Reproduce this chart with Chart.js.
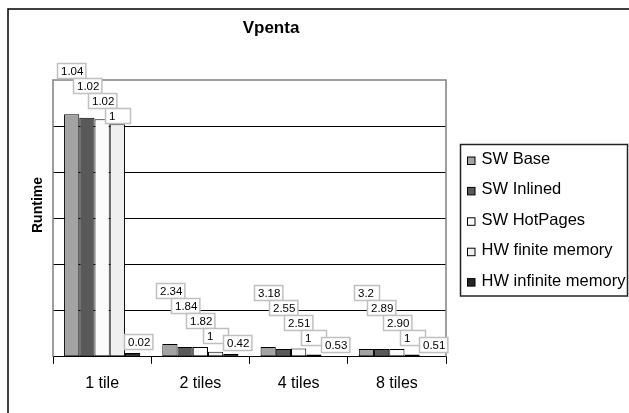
<!DOCTYPE html>
<html><head><meta charset="utf-8">
<script src="https://cdn.jsdelivr.net/npm/chart.js@4"></script>
<style>html,body{margin:0;padding:0;background:#fff;overflow:hidden}</style>
</head><body>
<canvas id="c" width="629" height="413"></canvas>
<script>
const chartTitle = 'Vpenta';
const yAxisTitle = 'Runtime';
const categories = ['1 tile', '2 tiles', '4 tiles', '8 tiles'];
const seriesNames = ['SW Base', 'SW Inlined', 'SW HotPages', 'HW finite memory', 'HW infinite memory'];
const swBase     = [5.26, 0.28, 0.21, 0.17];
const swInlined  = [5.18, 0.21, 0.17, 0.17];
const swHotPages = [5.15, 0.21, 0.18, 0.17];
const hwFinite   = [5.04, 0.11, 0.05, 0.05];
const hwInfinite = [0.08, 0.06, 0.02, 0.02];
const lblSwBase     = ['1.04', '2.34', '3.18', '3.2'];
const lblSwInlined  = ['1.02', '1.84', '2.55', '2.89'];
const lblSwHotPages = ['1.02', '1.82', '2.51', '2.90'];
const lblHwFinite   = ['1', '1', '1', '1'];
const lblHwInfinite = ['0.02', '0.42', '0.53', '0.51'];
const yTicks = [0, 1, 2, 3, 4, 5, 6];

const seriesValues = [swBase, swInlined, swHotPages, hwFinite, hwInfinite];
const seriesLabels = [lblSwBase, lblSwInlined, lblSwHotPages, lblHwFinite, lblHwInfinite];
const colors = ['#a3a3a3', '#595959', '#fbfbfb', '#efefef', '#262626'];
const FONT = '"Liberation Sans", Arial, sans-serif';

const deco = {
  id: 'deco',
  beforeDraw(chart) {
    const ctx = chart.ctx;
    ctx.save();
    ctx.fillStyle = '#fff';
    ctx.fillRect(0, 0, chart.width, chart.height);
    ctx.strokeStyle = '#000';
    ctx.lineWidth = 1.5;
    ctx.beginPath();
    ctx.moveTo(8, chart.height + 5);
    ctx.lineTo(8, 9);
    ctx.lineTo(chart.width + 5, 9);
    ctx.stroke();
    ctx.restore();
  },
  beforeDatasetsDraw(chart) {
    const {ctx, chartArea: a} = chart;
    ctx.save();
    ctx.strokeStyle = '#808080';
    ctx.lineWidth = 1.5;
    ctx.beginPath();
    ctx.moveTo(a.left, a.bottom);
    ctx.lineTo(a.left, a.top);
    ctx.lineTo(a.right, a.top);
    ctx.lineTo(a.right, a.bottom);
    ctx.stroke();
    ctx.restore();
  },
  afterDatasetsDraw(chart) {
    const {ctx} = chart;
    ctx.save();
    // data labels
    ctx.font = '11.5px ' + FONT;
    ctx.textBaseline = 'middle';
    ctx.textAlign = 'left';
    const H = 15;
    const n = seriesLabels.length;
    for (let i = 0; i < categories.length; i++) {
      const bars = seriesLabels.map((_, d) => chart.getDatasetMeta(d).data[i]);
      const bottoms = [];
      bottoms[n - 1] = bars[n - 1].y - 4;
      bottoms[n - 2] = Math.min(bars[n - 2].y - 1, bottoms[n - 1] - H + 8);
      for (let d = n - 3; d >= 0; d--) bottoms[d] = bottoms[d + 1] - H;
      for (let d = 0; d < n; d++) {
        const text = seriesLabels[d][i];
        const w = Math.max(25, ctx.measureText(text).width + 6);
        const shift = (d === n - 1) ? 6 : 0;
        const x = Math.round(bars[d].x - w / 2 + shift) + 0.5;
        const y = Math.round(bottoms[d] - H) + 0.5;
        ctx.fillStyle = '#fff';
        ctx.fillRect(x, y, w, H);
        ctx.strokeStyle = '#c0c0c0';
        ctx.lineWidth = 1.5;
        ctx.strokeRect(x, y, w, H);
        ctx.fillStyle = '#000';
        ctx.fillText(text, x + 3.5, y + H / 2 + 0.5);
      }
    }
    // title
    ctx.font = 'bold 17px ' + FONT;
    ctx.textAlign = 'center';
    ctx.fillStyle = '#000';
    ctx.fillText(chartTitle, 271, 28);
    // y axis title
    ctx.save();
    ctx.translate(38.5, 205);
    ctx.rotate(-Math.PI / 2);
    ctx.font = 'bold 14px ' + FONT;
    ctx.fillText(yAxisTitle, 0, 0);
    ctx.restore();
    // legend
    ctx.strokeStyle = '#222';
    ctx.lineWidth = 1.5;
    ctx.strokeRect(460.5, 144.5, 167, 151.5);
    ctx.font = '16.5px ' + FONT;
    ctx.textAlign = 'left';
    for (let d = 0; d < n; d++) {
      const cy = 159.5 + d * 30.4;
      ctx.fillStyle = colors[d];
      ctx.fillRect(467.5, cy - 2.5, 7.5, 7.5);
      ctx.strokeStyle = '#000';
      ctx.lineWidth = 1;
      ctx.strokeRect(467.5, cy - 2.5, 7.5, 7.5);
      ctx.fillStyle = '#000';
      ctx.fillText(seriesNames[d], 481.5, cy);
    }
    ctx.restore();
  }
};

new Chart(document.getElementById('c'), {
  type: 'bar',
  data: {
    labels: categories,
    datasets: seriesNames.map((name, d) => ({
      label: name,
      data: seriesValues[d],
      backgroundColor: colors[d],
      borderColor: '#000',
      borderWidth: 1,
      borderSkipped: false,
      categoryPercentage: 0.775,
      barPercentage: 1
    }))
  },
  options: {
    responsive: false,
    animation: false,
    devicePixelRatio: 1,
    layout: {padding: {left: 53, top: 80, right: 183, bottom: 10}},
    plugins: {legend: {display: false}, title: {display: false}, tooltip: {enabled: false}},
    scales: {
      x: {
        grid: {display: true, drawOnChartArea: false, drawTicks: true, tickLength: 7, color: '#000', lineWidth: 1},
        border: {display: true, color: '#000', width: 1},
        ticks: {color: '#000', font: {family: FONT, size: 16}, padding: 10}
      },
      y: {
        min: yTicks[0],
        max: yTicks[yTicks.length - 1],
        ticks: {display: false, stepSize: yTicks[1] - yTicks[0]},
        grid: {
          drawTicks: false,
          lineWidth: 1,
          color: c => (c.tick && c.tick.value === yTicks[yTicks.length - 1]) ? 'rgba(0,0,0,0)' : '#000'
        },
        border: {display: false}
      }
    }
  },
  plugins: [deco]
});
</script>
</body></html>
